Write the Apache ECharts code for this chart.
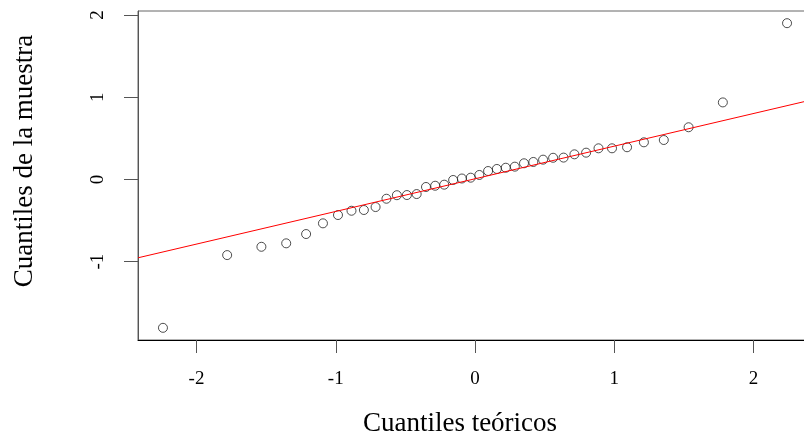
<!DOCTYPE html>
<html>
<head>
<meta charset="utf-8">
<script src="https://cdn.jsdelivr.net/npm/echarts@6/dist/echarts.min.js"></script>
<style>
html,body{margin:0;padding:0;background:#fff;overflow:hidden;width:804px;height:441px;}
#chart{width:830px;height:441px;}
</style>
</head>
<body>
<div id="chart"></div>
<script>
// Theoretical normal quantiles (x) and sorted sample quantiles (y)
const theoretical = [-2.241, -1.780, -1.534, -1.356, -1.213, -1.092, -0.984, -0.887, -0.798, -0.714,
  -0.636, -0.561, -0.489, -0.419, -0.352, -0.286, -0.221, -0.157, -0.094, -0.031,
  0.031, 0.094, 0.157, 0.221, 0.286, 0.352, 0.419, 0.489, 0.561, 0.636,
  0.714, 0.798, 0.887, 0.984, 1.092, 1.213, 1.356, 1.534, 1.780, 2.241];
const sample = [-1.804, -0.920, -0.819, -0.777, -0.664, -0.534, -0.433, -0.381, -0.372, -0.336,
  -0.235, -0.192, -0.190, -0.178, -0.092, -0.077, -0.064, -0.007, 0.011, 0.021,
  0.054, 0.102, 0.127, 0.142, 0.155, 0.196, 0.212, 0.240, 0.263, 0.265,
  0.305, 0.325, 0.378, 0.378, 0.391, 0.451, 0.479, 0.634, 0.936, 1.899];
const xTicks = [-2, -1, 0, 1, 2];
const yTicks = [-1, 0, 1, 2];
const xTitle = 'Cuantiles teóricos';
const yTitle = 'Cuantiles de la muestra';

// axis limits like R (4% extension)
function lim(arr){const mn=Math.min(...arr),mx=Math.max(...arr),r=mx-mn;return [mn-0.04*r,mx+0.04*r];}
const xl = lim(theoretical), yl = lim(sample);

// qqline through the quartiles
function q7(arr,p){const s=[...arr].sort((a,b)=>a-b);const h=(s.length-1)*p;const lo=Math.floor(h);return s[lo]+(h-lo)*(s[Math.min(lo+1,s.length-1)]-s[lo]);}
const zq = 0.6744898;
const q1 = q7(sample,0.25), q3 = q7(sample,0.75);
const slope = (q3-q1)/(2*zq);
const intercept = q1 + slope*zq;
const lineData = [[xl[0], intercept+slope*xl[0]], [xl[1], intercept+slope*xl[1]]];

const pts = theoretical.map((x,i)=>[x, sample[i]]);
const serif = 'Liberation Serif, Times New Roman, serif';

const chart = echarts.init(document.getElementById('chart'), null, {renderer:'canvas'});
chart.setOption({
  animation:false,
  backgroundColor:'#fff',
  grid:{left:138, top:11, width:674, height:329, show:true, borderColor:'#666', borderWidth:1, backgroundColor:'transparent'},
  xAxis:{
    type:'value', min:xl[0], max:xl[1],
    splitLine:{show:false},
    axisLine:{show:true, onZero:false, lineStyle:{color:'#000', width:1}},
    axisTick:{show:true, inside:false, length:13, customValues:xTicks, lineStyle:{color:'#555'}},
    axisLabel:{show:true, customValues:xTicks, margin:30, fontFamily:serif, fontSize:19, color:'#000',
      formatter:v=>String(v)}
  },
  yAxis:{
    type:'value', min:yl[0], max:yl[1],
    splitLine:{show:false},
    axisLine:{show:true, onZero:false, lineStyle:{color:'#555', width:1}},
    axisTick:{show:true, inside:false, length:14, customValues:yTicks, lineStyle:{color:'#555'}},
    axisLabel:{show:true, customValues:yTicks, rotate:90, margin:30, fontFamily:serif, fontSize:19, color:'#000',
      formatter:v=>String(v)}
  },
  graphic:[
    {type:'text', x:460, y:424, style:{text:xTitle, x:0, y:0, textAlign:'center', textVerticalAlign:'middle', font:'27px '+serif, fill:'#000'}},
    {type:'text', x:25, y:161, rotation:Math.PI/2, style:{text:yTitle, x:0, y:0, textAlign:'center', textVerticalAlign:'middle', font:'27px '+serif, fill:'#000'}}
  ],
  series:[
    {type:'scatter', data:pts, symbol:'circle', symbolSize:9, z:2,
      itemStyle:{color:'rgba(0,0,0,0)', borderColor:'#222', borderWidth:1}},
    {type:'line', data:lineData, showSymbol:false, symbol:'none', z:3, clip:true,
      lineStyle:{color:'#ff0000', width:1}}
  ]
});
</script>
</body>
</html>
